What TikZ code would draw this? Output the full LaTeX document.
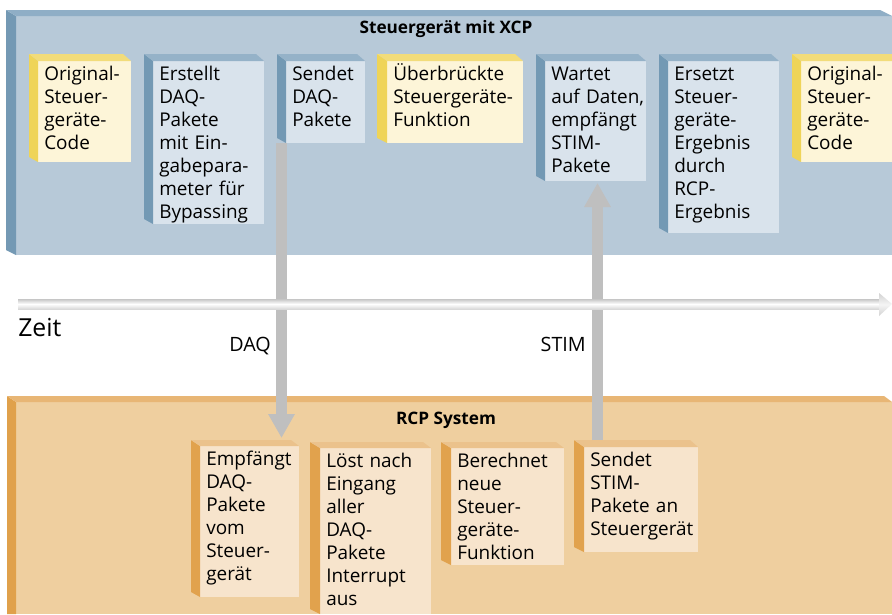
\documentclass[tikz,border=0pt]{standalone}
\usepackage{fontspec}
\setmainfont{Open Sans}
\usetikzlibrary{arrows.meta}
\definecolor{panface}{HTML}{B7C9D8}
\definecolor{panside}{HTML}{7499B4}
\definecolor{pantop}{HTML}{8FAEC6}
\definecolor{bluface}{HTML}{D9E3EC}
\definecolor{bluside}{HTML}{7399B4}
\definecolor{blutop}{HTML}{95B2C8}
\definecolor{yelface}{HTML}{FDF5D8}
\definecolor{yelside}{HTML}{EFD458}
\definecolor{yeltop}{HTML}{F2DC7A}
\definecolor{rcpface}{HTML}{EFCF9F}
\definecolor{rcpside}{HTML}{E0A14B}
\definecolor{rcptop}{HTML}{E8B675}
\definecolor{orgface}{HTML}{F7E4CC}
\definecolor{orgside}{HTML}{E1A24D}
\definecolor{orgtop}{HTML}{EBC28C}
\definecolor{arrowgray}{HTML}{BFBFBF}
\tikzset{
  boxtext/.style={anchor=base west, inner sep=0pt, text width=140pt, align=left,
    font=\fontsize{14.2pt}{17.25pt}\selectfont},
  paneltitle/.style={inner sep=0pt, font=\bfseries\fontsize{12.9pt}{15pt}\selectfont},
  smalllabel/.style={inner sep=0pt, anchor=base east, font=\fontsize{14.8pt}{16pt}\selectfont},
  biglabel/.style={inner sep=0pt, anchor=base west, font=\fontsize{18.6pt}{20pt}\selectfont},
  bigarrow/.style={draw=arrowgray, line width=8.25pt, -{Triangle[length=18pt,width=18.75pt]}},
}
% #1 kind, #2 side x, #3 face x, #4 top y, #5 face y, #6 right, #7 bottom, #8 name, #9 text
\newcommand\cubebox[9]{%
  \fill[#1face] (#3,#5) rectangle (#6,#7);
  \fill[#1side] (#2,#4) -- (#3,#5) -- (#3,#7) -- (#2,{#7-5}) -- cycle;
  \fill[#1top] (#2,#4) -- ({#6-8},#4) -- (#6,#5) -- (#3,#5) -- cycle;
  \node[boxtext] (#8) at ({#3+6},{#5+19.5}) {#9};
}
\begin{document}
\begin{tikzpicture}[x=0.75pt,y=-0.75pt]
\clip (0,0) rectangle (892,614);
\fill[white] (0,0) rectangle (892,614);
% top panel
\fill[panface] (16,16) rectangle (892,255);
\fill[panside] (6,10) -- (16,16) -- (16,255) -- (6,250) -- cycle;
\fill[pantop] (6,10) -- (880,10) -- (892,16) -- (16,16) -- cycle;
\node[paneltitle] (ttop) at (446,29) {Steuergerät mit XCP};
% bottom panel
\fill[rcpface] (16,402) rectangle (892,614);
\fill[rcpside] (7,396) -- (16,402) -- (16,614) -- (7,614) -- cycle;
\fill[rcptop] (7,396) -- (884,396) -- (892,402) -- (16,402) -- cycle;
\node[paneltitle] (tbot) at (446,420) {RCP System};
% top boxes
\cubebox{yel}{29}{38}{54}{61}{131}{162}{t1}{Original-\\Steuer-\\geräte-\\Code}
\cubebox{blu}{144}{153}{54}{61}{264}{224}{t2}{Erstellt\\DAQ-\\Pakete\\mit Ein-\\gabepara-\\meter für\\Bypassing}
\cubebox{blu}{277}{286}{54}{61}{365}{143}{t3}{Sendet\\DAQ-\\Pakete}
\cubebox{yel}{377}{387}{54}{61}{523}{143}{t4}{Überbrückte\\Steuergeräte-\\Funktion}
\cubebox{blu}{536}{545}{54}{61}{646}{181}{t5}{Wartet\\auf Daten,\\empfängt\\STIM-\\Pakete}
\cubebox{blu}{659}{668}{54}{61}{779}{233}{t6}{Ersetzt\\Steuer-\\geräte-\\Ergebnis\\durch\\RCP-\\Ergebnis}
\cubebox{yel}{792}{801}{54}{61}{905}{162}{t7}{Original-\\Steuer-\\geräte-\\Code}
% bottom boxes
\cubebox{org}{191}{200}{440}{446}{299}{597}{b1}{Empfängt\\DAQ-\\Pakete\\vom\\Steuer-\\gerät}
\cubebox{org}{310}{320}{442}{448}{431}{614}{b2}{Löst nach\\Eingang\\aller\\DAQ-\\Pakete\\Interrupt\\aus}
\cubebox{org}{441}{451}{442}{448}{564}{565}{b3}{Berechnet\\neue\\Steuer-\\geräte-\\Funktion}
\cubebox{org}{574}{584}{440}{447}{698}{552}{b4}{Sendet\\STIM-\\Pakete an\\Steuergerät}
% arrows
\coordinate (daqstart) at (281.5,143);
\coordinate (daqend) at (281.5,438);
\coordinate (stimstart) at (597.5,440);
\coordinate (stimend) at (597.5,183);
\draw[bigarrow] (daqstart) -- (daqend);
\draw[bigarrow] (stimstart) -- (stimend);
% time line
\shade[top color=gray!45, bottom color=gray!30, middle color=white] (18,299) rectangle (879.5,309);
\shade[top color=gray!35, bottom color=gray!35, middle color=gray!8] (879,293) -- (892,304) -- (879,316) -- cycle;
\node[biglabel] (zeit) at (18,336) {Zeit};
\node[smalllabel] (daq) at (271,351) {DAQ};
\node[smalllabel] (stim) at (586,351) {STIM};
\end{tikzpicture}
\end{document}
